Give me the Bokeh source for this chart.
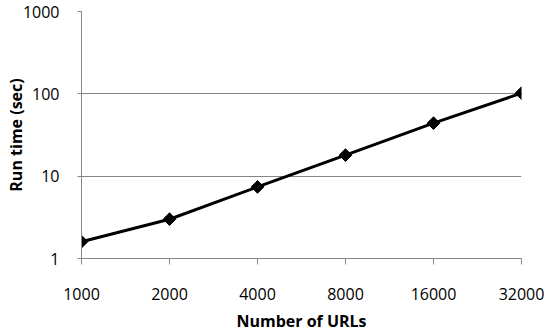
import math
from bokeh.plotting import figure
from bokeh.models import ColumnDataSource, FixedTicker, Range1d
from bokeh.embed import file_html
from bokeh.resources import INLINE

# Data
url_counts = ["1000", "2000", "4000", "8000", "16000", "32000"]
run_time_sec = [1.6, 3.0, 7.4, 18.0, 44.0, 102.0]
y_ticks = [1, 10, 100, 1000]
y_tick_labels = ["1", "10", "100", "1000"]
x_title = "Number of URLs"
y_title = "Run time (sec)"

xs = list(range(len(url_counts)))
src = ColumnDataSource(dict(x=xs, y=run_time_sec))

GRAY = "#868686"
FONT = "Open Sans"

p = figure(width=548, height=334, y_axis_type="log",
           x_range=Range1d(0, len(url_counts) - 1), y_range=Range1d(1, 1000),
           output_backend="svg", toolbar_location=None,
           min_border_left=81, min_border_right=27, min_border_top=11, min_border_bottom=75)
p.outline_line_color = None
p.background_fill_color = "white"
p.border_fill_color = "white"

p.line("x", "y", source=src, line_color="black", line_width=3)
p.scatter("x", "y", source=src, marker="square", angle=math.pi / 4, size=9,
          fill_color="black", line_color="black")

# X axis
p.xaxis.ticker = FixedTicker(ticks=xs)
p.xaxis.major_label_overrides = {i: lab for i, lab in enumerate(url_counts)}
p.xaxis.axis_label = x_title
p.xaxis.minor_tick_line_color = None
p.xaxis.major_tick_in = 0
p.xaxis.major_tick_out = 6
p.xaxis.major_label_standoff = 23
p.xaxis.axis_label_standoff = 7

# Y axis
p.yaxis.ticker = FixedTicker(ticks=y_ticks, minor_ticks=[])
p.yaxis.major_label_overrides = {t: lab for t, lab in zip(y_ticks, y_tick_labels)}
p.yaxis.axis_label = y_title
p.yaxis.major_tick_in = 0
p.yaxis.major_tick_out = 4
p.yaxis.major_label_standoff = 18
p.yaxis.axis_label_standoff = -7

for ax in (p.xaxis, p.yaxis):
    ax.axis_line_color = GRAY
    ax.axis_line_width = 1
    ax.major_tick_line_color = GRAY
    ax.major_label_text_font = FONT
    ax.major_label_text_font_size = "16px"
    ax.major_label_text_color = "black"
    ax.axis_label_text_font = FONT
    ax.axis_label_text_font_style = "bold"
    ax.axis_label_text_font_size = "16px"
    ax.axis_label_text_color = "black"

p.xgrid.grid_line_color = None
p.ygrid.grid_line_color = GRAY
p.ygrid.grid_line_width = 1
p.ygrid.ticker = FixedTicker(ticks=y_ticks, minor_ticks=[])

open("out.html", "w").write(file_html(p, INLINE))
